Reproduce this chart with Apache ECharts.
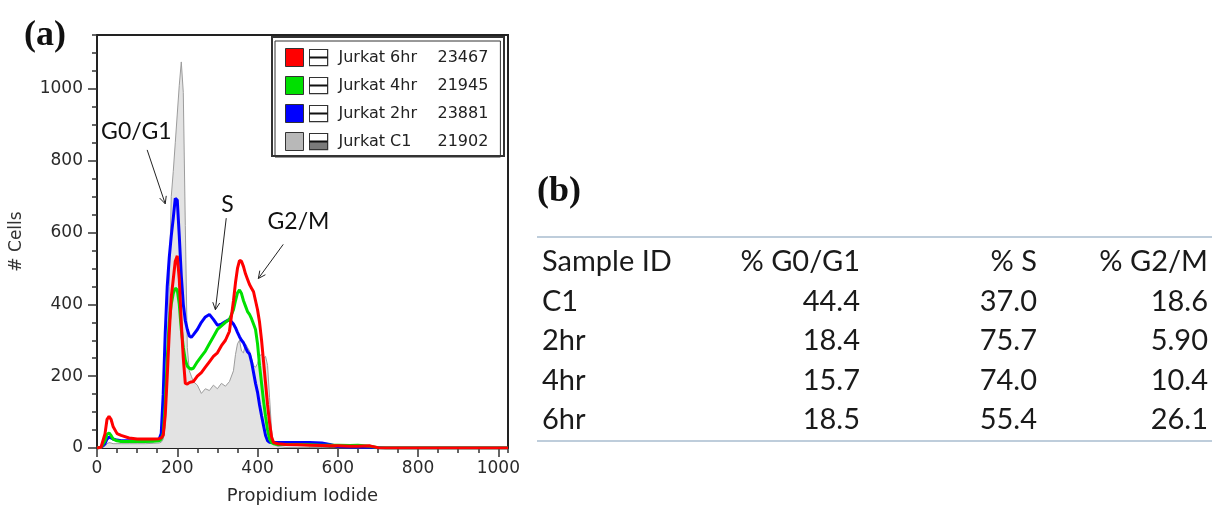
<!DOCTYPE html>
<html><head><meta charset="utf-8">
<script src="https://cdn.jsdelivr.net/npm/echarts@6/dist/echarts.min.js"></script>
<style>html,body{margin:0;padding:0;background:#fff}#c{width:1212px;height:511px}</style>
</head><body><div id="c"></div>
<script>
// ---------- DATA ----------
const channels = [0,10,20,25,30,35,40,50,60,80,
  100,120,140,155,160,165,170,175,180,185,
  190,195,200,205,210,215,220,225,230,235,
  240,250,260,270,280,290,300,310,320,330,
  340,345,350,355,360,365,370,375,380,385,
  390,395,400,405,410,415,420,425,430,435,
  440,450,470,500,530,560,580,600,630,650,
  680,700,720,800,900,1024];
const jurkatC1 = [0,0,5,12,15,14,12,12,12,12,
  12,12,13,14,16,25,60,250,450,700,
  770,850,930,1010,1075,990,620,280,215,200,
  185,175,152,165,160,175,165,180,172,185,
  215,260,290,300,270,265,290,280,270,250,
  230,225,235,255,262,250,255,230,140,50,
  12,4,2,2,1,1,0,0,0,0,
  0,0,0,0,0,0];
const jurkat2hr = [0,2,12,25,30,28,25,22,20,20,
  20,20,20,25,40,150,320,450,530,590,
  640,695,690,590,480,400,355,330,312,308,
  315,330,350,365,372,358,342,345,352,358,
  345,335,322,310,300,293,280,268,262,240,
  210,180,155,120,90,62,35,20,16,15,
  15,15,15,15,15,14,10,4,3,3,
  2,1,0,0,0,0];
const jurkat4hr = [0,2,20,38,42,35,25,20,18,18,
  18,18,19,20,25,40,120,250,350,400,
  430,445,440,400,330,280,245,228,222,220,
  222,240,255,270,290,310,330,340,350,358,
  385,410,432,440,430,410,395,380,372,360,
  345,330,290,230,180,130,88,50,25,15,
  12,10,10,10,9,8,8,8,7,8,
  5,1,0,0,0,0];
const jurkat6hr = [0,2,40,80,88,80,60,40,35,28,
  25,25,25,26,28,35,90,200,320,420,
  470,520,535,470,350,250,180,178,182,184,
  185,200,210,225,240,255,265,285,300,325,
  410,460,500,522,520,505,485,470,455,445,
  435,410,385,350,300,240,180,120,70,30,
  15,12,10,9,8,7,6,6,5,5,
  6,1,0,0,0,0];
const legendNames = ['Jurkat 6hr','Jurkat 4hr','Jurkat 2hr','Jurkat C1'];
const legendCounts = [23467, 21945, 23881, 21902];

const tableColumns = ['Sample ID', '% G0/G1', '% S', '% G2/M'];
const sampleIds = ['C1', '2hr', '4hr', '6hr'];
const pctG0G1 = [44.4, 18.4, 15.7, 18.5];
const pctS = [37.0, 75.7, 74.0, 55.4];
const pctG2M = [18.6, 5.90, 10.4, 26.1];

// ---------- CHART ----------
const chart = echarts.init(document.getElementById('c'), null, {renderer: 'canvas'});
const pairs = arr => channels.map((c, i) => [c, arr[i]]);
const countOf = {};
legendNames.forEach((n, i) => countOf[n] = legendCounts[i]);

const svgIcon = fill => 'data:image/svg+xml;charset=utf-8,' + encodeURIComponent(
  '<svg xmlns="http://www.w3.org/2000/svg" width="20" height="18">' +
  (fill ? '<rect x="1" y="9" width="18" height="8" fill="#7a7a7a"/>' : '') +
  '<rect x="0.75" y="0.75" width="18.5" height="16.5" fill="none" stroke="#333" stroke-width="1.5"/>' +
  '<line x1="1" y1="9" x2="19" y2="9" stroke="#111" stroke-width="2.2"/></svg>');
const lineIcon = svgIcon(false);
const fillIcon = svgIcon(true);

const axisFont = 'DejaVu Sans';
const plainNum = v => String(v);
const option = {
  animation: false,
  backgroundColor: '#fff',
  grid: {left: 97, top: 35, width: 411, height: 413, show: true, borderColor: '#222', borderWidth: 2, backgroundColor: '#fff'},
  legend: {
    orient: 'vertical', left: 275, top: 41, padding: [7, 12, 6, 10], itemGap: 9,
    itemWidth: 18, itemHeight: 18, icon: 'rect',
    borderColor: '#333', borderWidth: 1, backgroundColor: '#fff',
    data: legendNames.map(n => ({name: n, itemStyle: {borderColor: '#333', borderWidth: 1}})),
    formatter: name => `{ic${name === 'Jurkat C1' ? 'f' : ''}|}{sp|}{n|${name}}{c|${countOf[name]}}`,
    textStyle: {
      fontFamily: axisFont, fontSize: 16, color: '#222',
      rich: {
        ic: {width: 20, height: 18, backgroundColor: {image: lineIcon}},
        icf: {width: 20, height: 18, backgroundColor: {image: fillIcon}},
        sp: {width: 10},
        n: {width: 99, fontFamily: axisFont, fontSize: 16, color: '#222'},
        c: {fontFamily: axisFont, fontSize: 16, color: '#222'}
      }
    }
  },
  xAxis: [{
    type: 'value', min: 0, max: 1024, interval: 200, position: 'bottom',
    axisLine: {show: true, onZero: false, lineStyle: {color: '#222', width: 2}},
    axisTick: {show: true, length: 9, lineStyle: {color: '#333', width: 1.5}},
    axisLabel: {fontFamily: axisFont, fontSize: 17, color: '#2a2a2a', margin: 12, showMaxLabel: false, formatter: plainNum},
    splitLine: {show: false},
    name: 'Propidium Iodide', nameLocation: 'middle', nameGap: 39,
    nameTextStyle: {fontFamily: axisFont, fontSize: 18, color: '#2a2a2a'}
  }, {
    type: 'value', min: 0, max: 1024, interval: 50, position: 'bottom',
    axisLine: {show: false}, axisLabel: {show: false}, splitLine: {show: false},
    axisTick: {show: true, length: 5, lineStyle: {color: '#333', width: 1.5}}
  }],
  yAxis: [{
    type: 'value', min: 0, max: 1150, interval: 200, position: 'left',
    axisLine: {show: true, onZero: false, lineStyle: {color: '#222', width: 2}},
    axisTick: {show: true, length: 9, lineStyle: {color: '#333', width: 1.5}},
    axisLabel: {fontFamily: axisFont, fontSize: 17, color: '#2a2a2a', margin: 14, showMaxLabel: false, formatter: plainNum},
    splitLine: {show: false},
    name: '# Cells', nameLocation: 'middle', nameGap: 72, nameRotate: 90,
    nameTextStyle: {fontFamily: axisFont, fontSize: 17, color: '#333'}
  }, {
    type: 'value', min: 0, max: 1150, interval: 50, position: 'left',
    axisLine: {show: false}, axisLabel: {show: false}, splitLine: {show: false},
    axisTick: {show: true, length: 5, lineStyle: {color: '#333', width: 1.5}}
  }],
  series: [
    {name: 'Jurkat C1', type: 'line', data: pairs(jurkatC1), showSymbol: false, symbol: 'none', z: 1,
     color: '#b8b8b8', lineStyle: {color: '#9c9c9c', width: 1}, areaStyle: {color: '#e3e3e3', opacity: 1}},
    {name: 'Jurkat 2hr', type: 'line', data: pairs(jurkat2hr), showSymbol: false, symbol: 'none', z: 2,
     color: '#0000ff', lineStyle: {color: '#0000ff', width: 3}},
    {name: 'Jurkat 4hr', type: 'line', data: pairs(jurkat4hr), showSymbol: false, symbol: 'none', z: 3,
     color: '#00e000', lineStyle: {color: '#00e000', width: 3}},
    {name: 'Jurkat 6hr', type: 'line', data: pairs(jurkat6hr), showSymbol: false, symbol: 'none', z: 4,
     color: '#ff0000', lineStyle: {color: '#ff0000', width: 3}}
  ]
};
chart.setOption(option);

// ---------- ANNOTATIONS, PANEL LABELS, TABLE ----------
const annotations = [
  {text: 'G0/G1', at: [98, 880], from: [125, 830], to: [170, 680]},
  {text: 'S', at: [325, 679], from: [322, 640], to: [295, 385]},
  {text: 'G2/M', at: [502, 631], from: [464, 567], to: [402, 472]}
];
const toPx = p => chart.convertToPixel({xAxisIndex: 0, yAxisIndex: 0}, p);
const gfx = [];
annotations.forEach(a => {
  const lp = toPx(a.at), f = toPx(a.from), t = toPx(a.to);
  gfx.push({type: 'text', x: lp[0], y: lp[1], z: 50,
    style: {text: a.text, font: '23px Lato', fill: '#111', textAlign: 'center', textVerticalAlign: 'middle'}});
  gfx.push({type: 'line', z: 50, shape: {x1: f[0], y1: f[1], x2: t[0], y2: t[1]}, style: {stroke: '#222', lineWidth: 1}});
  const ang = Math.atan2(t[1] - f[1], t[0] - f[0]), L = 8, s = 0.45;
  gfx.push({type: 'polyline', z: 50, shape: {points: [
    [t[0] - L * Math.cos(ang - s), t[1] - L * Math.sin(ang - s)], t,
    [t[0] - L * Math.cos(ang + s), t[1] - L * Math.sin(ang + s)]]},
    style: {stroke: '#222', lineWidth: 1, fill: null}});
});
// legend double border (outer frame)
gfx.push({type: 'rect', z: 60, shape: {x: 272, y: 37, width: 232, height: 119}, style: {fill: null, stroke: '#333', lineWidth: 2}});
// panel labels
gfx.push({type: 'text', x: 24, y: 36, style: {text: '(a)', font: 'bold 36px "Liberation Serif"', fill: '#111', textVerticalAlign: 'middle'}});
gfx.push({type: 'text', x: 537, y: 192, style: {text: '(b)', font: 'bold 36px "Liberation Serif"', fill: '#111', textVerticalAlign: 'middle'}});
// table
const tblFont = '29px Lato';
const colX = [542, 860, 1037, 1208];
const colAlign = ['left', 'right', 'right', 'right'];
const rowY = [262, 302, 341, 381, 420];
gfx.push({type: 'line', shape: {x1: 537, y1: 237, x2: 1212, y2: 237}, style: {stroke: '#a9bccf', lineWidth: 1.5}});
gfx.push({type: 'line', shape: {x1: 537, y1: 441, x2: 1212, y2: 441}, style: {stroke: '#a9bccf', lineWidth: 1.5}});
tableColumns.forEach((h, j) => gfx.push({type: 'text', x: colX[j], y: rowY[0],
  style: {text: h, font: tblFont, fill: '#1a1a1a', textAlign: colAlign[j], textVerticalAlign: 'middle'}}));
sampleIds.forEach((id, i) => {
  const cells = [id, pctG0G1[i].toPrecision(3), pctS[i].toPrecision(3), pctG2M[i].toPrecision(3)];
  cells.forEach((v, j) => gfx.push({type: 'text', x: colX[j], y: rowY[i + 1],
    style: {text: v, font: tblFont, fill: '#1a1a1a', textAlign: colAlign[j], textVerticalAlign: 'middle'}}));
});
chart.setOption({graphic: gfx});
</script>
</body></html>
